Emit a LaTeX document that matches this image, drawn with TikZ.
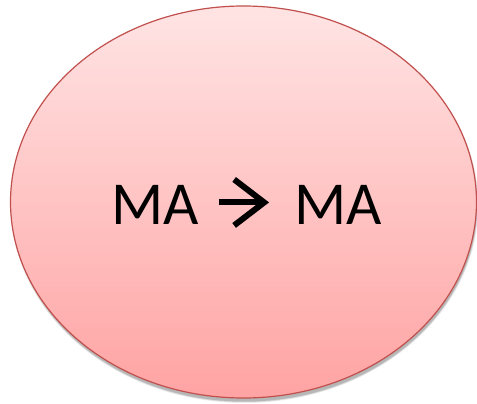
\documentclass[tikz,border=0pt]{standalone}
\usepackage{fontspec}
\setmainfont{Carlito}
\usetikzlibrary{arrows.meta,calc,positioning}
\definecolor{ovalline}{HTML}{C0504D}
\definecolor{ovaltop}{HTML}{FFE4E4}
\definecolor{ovalbot}{HTML}{FFA3A3}
\begin{document}
\begin{tikzpicture}[x=1pt,y=-1pt,font=\fontsize{61}{70}\selectfont,>={Straight Barb[length=30pt,width=46pt]}]
 \useasboundingbox (0,0) rectangle (477,404);
 % soft shadow
 \foreach \d/\o in {4/.05,3/.07,2/.09,1/.11}{
  \fill[black,opacity=\o] (244.5,205) ellipse ({232+\d*.5} and {196+\d*.5});
 }
 \shade[top color=ovaltop,bottom color=ovalbot,draw=ovalline,line width=1.2pt]
   (243.5,202) ellipse (233 and 196);
 \node[inner sep=0pt,anchor=base] (lhs) at (155,224) {MA};
 \node[inner sep=0pt,anchor=base] (rhs) at (338,224) {MA};
 \draw[->,line width=6pt,shorten <=20pt,shorten >=25pt]
   ([yshift=2pt]lhs.east) -- ([yshift=2pt]rhs.west);
\end{tikzpicture}
\end{document}
